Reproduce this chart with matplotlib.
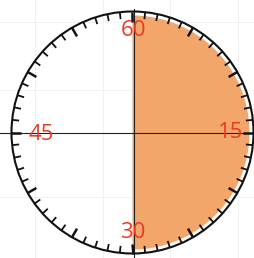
import numpy as np
import matplotlib
matplotlib.use("Agg")
import matplotlib.pyplot as plt
from matplotlib.patches import Polygon, Circle

# Data
minute_labels = ["60", "15", "30", "45"]
label_minutes = [0, 15, 30, 45]
n_ticks = 60
major_every = 5
shaded_start, shaded_end = 0, 30  # minutes shaded

W, H = 255, 258
fig = plt.figure(figsize=(W / 100, H / 100), dpi=100)
ax = fig.add_axes([0, 0, 1, 1])
ax.set_xlim(0, W)
ax.set_ylim(H, 0)
ax.set_aspect("auto")
ax.axis("off")

cx, cy, r = 132.5, 132.5, 121.0

def pt(m, rad):
    th = np.deg2rad(6 * m)
    return cx + rad * np.sin(th), cy - rad * np.cos(th)

# faint graph paper lines
for gx in [35, 103, 170, 238]:
    ax.plot([gx, gx], [0, H], color="#eceff3", lw=0.6, zorder=0)
for gy in [22, 90, 197]:
    ax.plot([0, W], [gy, gy], color="#eceff3", lw=0.6, zorder=0)

# shaded half
ms = np.linspace(shaded_start, shaded_end, 100)
arc = [pt(m, r - 4) for m in ms]
poly = [(cx, cy - r + 4)] + arc + [(cx, cy + r - 4)]
ax.add_patch(Polygon(poly, closed=True, facecolor="#f3a66a", edgecolor="none", zorder=1))

# circle
ax.add_patch(Circle((cx, cy), r, fill=False, edgecolor="#111111", lw=1.5, zorder=3))

# ticks
for i in range(n_ticks):
    major = i % major_every == 0
    L = 10 if major else 7
    x0, y0 = pt(i, r)
    x1, y1 = pt(i, r - L)
    ax.plot([x0, x1], [y0, y1], color="#111111", lw=1.8 if major else 1.3,
            solid_capstyle="butt", zorder=3)

# cross lines
ax.plot([cx + 1.5, cx + 1.5], [cy - r - 3, H], color="#222222", lw=0.8, zorder=2)
ax.plot([0, W], [cy, cy], color="#222222", lw=0.8, zorder=2)

# labels
label_pos = {"60": (134, 31), "15": (231, 133), "30": (133, 232), "45": (41, 134)}
for lab in minute_labels:
    x, y = label_pos[lab]
    ax.text(x, y, lab, color="#e63b26", fontsize=16, ha="center", va="center",
            family="Open Sans", zorder=4)

fig.savefig("out.png", dpi=100)
